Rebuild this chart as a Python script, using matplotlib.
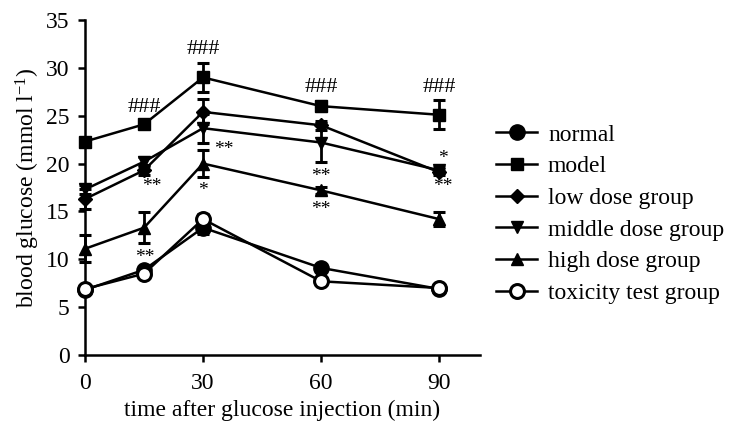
import numpy as np
import matplotlib
matplotlib.use("Agg")
import matplotlib.pyplot as plt

plt.rcParams['font.family'] = ['Liberation Serif', 'DejaVu Serif']
plt.rcParams['mathtext.fontset'] = 'custom'
plt.rcParams['mathtext.rm'] = 'Liberation Serif'
plt.rcParams['mathtext.it'] = 'Liberation Serif:italic'

# time points (min)
times = [0, 15, 30, 60, 90]

# blood glucose means and error bars (mmol/l)
normal = [6.8, 8.9, 13.3, 9.1, 6.9]
normal_err = [0.3, 0.3, 0.7, 0.3, 0.3]
model = [22.3, 24.1, 29.0, 26.0, 25.1]
model_err = [0.4, 0.4, 1.5, 0.5, 1.5]
low_dose = [16.3, 19.3, 25.4, 24.0, 19.1]
low_err = [1.0, 0.5, 1.3, 0.5, 0.3]
middle_dose = [17.3, 20.2, 23.7, 22.2, 19.3]
middle_err = [0.5, 0.5, 1.5, 2.0, 0.3]
high_dose = [11.1, 13.3, 20.0, 17.2, 14.2]
high_err = [1.4, 1.6, 1.4, 0.4, 0.7]
toxicity = [6.9, 8.5, 14.2, 7.7, 7.0]
toxicity_err = [0.3, 0.3, 0.5, 0.3, 0.3]

series = [
    ("normal", normal, normal_err, "o", "k", 11),
    ("model", model, model_err, "s", "k", 9),
    ("low dose group", low_dose, low_err, "D", "k", 7),
    ("middle dose group", middle_dose, middle_err, "v", "k", 9),
    ("high dose group", high_dose, high_err, "^", "k", 9),
    ("toxicity test group", toxicity, toxicity_err, "o", "white", 10),
]

# significance marks: (x, y, text)
marks = [
    (15, 25.9, "###"), (30, 31.9, "###"), (60, 27.9, "###"), (90, 27.9, "###"),
    (17, 17.6, "**"), (35.3, 21.5, "**"), (30, 17.2, "*"),
    (60, 18.6, "**"), (60, 15.2, "**"), (91, 20.5, "*"), (91, 17.6, "**"),
    (15.2, 10.2, "**"),
]

fig = plt.figure(figsize=(7.29, 4.22), dpi=100)
ax = fig.add_axes([85 / 729, 1 - 355 / 422, (480 - 85) / 729, (355 - 20) / 422])

handles = []
for name, vals, err, mk, fc, ms in series:
    ax.errorbar(times, vals, yerr=err, fmt="none", ecolor="k", elinewidth=2,
                capsize=4, capthick=2.2, clip_on=False, zorder=2)
    h, = ax.plot(times, vals, color="k", lw=1.8, marker=mk, markersize=ms,
                 markerfacecolor=fc, markeredgecolor="k",
                 markeredgewidth=2.2 if fc == "white" else 1,
                 clip_on=False, zorder=3, label=name)
    handles.append(h)

for x, y, t in marks:
    fs = 16 if t.startswith("#") else 14
    ax.text(x, y, t, ha="center", va="center", fontsize=fs)

ax.set_xlim(0, 100.4)
ax.set_ylim(0, 35)
ax.set_xticks([0, 30, 60, 90])
ax.set_yticks(range(0, 36, 5))
for s in ["top", "right"]:
    ax.spines[s].set_visible(False)
for s in ["left", "bottom"]:
    ax.spines[s].set_linewidth(1.8)
ax.tick_params(direction="out", length=5, width=1.8, labelsize=17)
ax.tick_params(axis="x", pad=8)
ax.tick_params(axis="y", pad=6)

ax.set_xlabel("time after glucose injection (min)", fontsize=17, labelpad=4)
ax.set_ylabel("blood glucose (mmol l$^{-1}$)", fontsize=17, labelpad=3)

fig.legend(handles=handles, loc="center left", bbox_to_anchor=(496 / 729, 1 - 214 / 422),
           frameon=False, fontsize=17, handlelength=1.75, handletextpad=0.45,
           labelspacing=0.43, borderpad=0, borderaxespad=0)

fig.savefig("out.png", dpi=100)
